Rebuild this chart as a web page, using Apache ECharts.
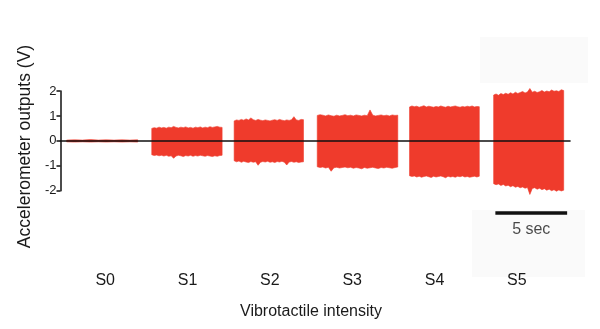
<!DOCTYPE html>
<html>
<head>
<meta charset="utf-8">
<script src="https://cdn.jsdelivr.net/npm/echarts@6/dist/echarts.min.js"></script>
<style>
  html, body { margin: 0; padding: 0; background: #fff; }
  #chart { width: 600px; height: 329px; }
</style>
</head>
<body>
<div id="chart"></div>
<script>
// Intensity levels shown under each recording
const categories = ['S0', 'S1', 'S2', 'S3', 'S4', 'S5'];
const yTicks = [-2, -1, 0, 1, 2];

// Start / end time (s) of each 5-second recording
const segStart = [0.43, 6.36, 12.10, 17.89, 24.32, 30.18];
const segEnd   = [5.38, 11.26, 16.93, 23.50, 29.18, 35.06];

// Envelope of the accelerometer signal (V): peak and trough along each recording
const s0Upper = [0.03, 0.04, 0.03, 0.05, 0.03, 0.04, 0.03, 0.04, 0.03, 0.04];
const s0Lower = [-0.04, -0.05, -0.04, -0.05, -0.04, -0.05, -0.04, -0.05, -0.04, -0.05];
const s1Upper = [0.50, 0.53, 0.51, 0.55, 0.52, 0.54, 0.51, 0.55, 0.53, 0.58, 0.54, 0.52, 0.55, 0.53, 0.56, 0.52, 0.54, 0.51, 0.55, 0.53, 0.56, 0.52, 0.55, 0.53, 0.57, 0.54, 0.56, 0.58, 0.55, 0.54];
const s1Lower = [-0.56, -0.59, -0.57, -0.60, -0.58, -0.61, -0.58, -0.62, -0.60, -0.70, -0.61, -0.58, -0.60, -0.63, -0.59, -0.61, -0.58, -0.62, -0.59, -0.61, -0.58, -0.60, -0.62, -0.59, -0.61, -0.63, -0.60, -0.62, -0.59, -0.58];
const s2Upper = [0.80, 0.84, 0.82, 0.86, 0.83, 0.88, 0.84, 0.92, 0.85, 0.82, 0.86, 0.83, 0.81, 0.84, 0.82, 0.80, 0.83, 0.85, 0.82, 0.86, 0.83, 0.81, 0.84, 0.82, 0.85, 0.97, 0.84, 0.82, 0.86, 0.85];
const s2Lower = [-0.80, -0.84, -0.81, -0.86, -0.82, -0.85, -0.87, -0.83, -0.86, -0.84, -0.98, -0.86, -0.83, -0.85, -0.82, -0.86, -0.84, -0.87, -0.83, -0.85, -0.82, -0.86, -0.97, -0.85, -0.83, -0.86, -0.84, -0.87, -0.85, -0.84];
const s3Upper = [1.02, 1.05, 1.03, 1.00, 1.04, 1.01, 0.99, 1.03, 1.00, 1.02, 1.05, 1.01, 1.03, 1.00, 1.04, 1.02, 1.00, 1.03, 1.01, 1.24, 1.03, 1.00, 1.02, 1.04, 1.01, 1.03, 1.00, 1.04, 1.02, 1.03];
const s3Lower = [-1.04, -1.07, -1.05, -1.09, -1.06, -1.22, -1.08, -1.06, -1.09, -1.07, -1.05, -1.08, -1.06, -1.10, -1.07, -1.09, -1.12, -1.07, -1.10, -1.08, -1.06, -1.09, -1.11, -1.07, -1.09, -1.06, -1.08, -1.10, -1.07, -1.05];
const s4Upper = [1.36, 1.40, 1.37, 1.39, 1.35, 1.38, 1.41, 1.36, 1.39, 1.37, 1.35, 1.38, 1.36, 1.40, 1.37, 1.35, 1.39, 1.36, 1.38, 1.40, 1.37, 1.35, 1.38, 1.36, 1.39, 1.37, 1.40, 1.36, 1.38, 1.37];
const s4Lower = [-1.40, -1.43, -1.41, -1.45, -1.42, -1.46, -1.43, -1.41, -1.44, -1.47, -1.42, -1.45, -1.43, -1.41, -1.44, -1.48, -1.42, -1.45, -1.43, -1.46, -1.42, -1.44, -1.41, -1.45, -1.43, -1.46, -1.44, -1.42, -1.45, -1.42];
const s5Upper = [1.84, 1.88, 1.83, 1.90, 1.86, 1.91, 1.87, 1.93, 1.88, 1.95, 1.90, 1.94, 1.98, 1.92, 1.96, 2.10, 1.95, 1.99, 1.94, 1.97, 2.02, 1.96, 2.00, 1.97, 2.04, 1.99, 2.01, 1.98, 2.05, 2.02];
const s5Lower = [-1.72, -1.76, -1.73, -1.79, -1.75, -1.81, -1.78, -1.84, -1.80, -1.86, -1.83, -1.88, -1.85, -1.90, -1.87, -2.15, -1.91, -1.88, -1.94, -1.90, -1.96, -1.92, -1.98, -1.94, -2.00, -1.96, -2.02, -1.97, -2.01, -1.98];

// 5-second scale bar (time span, level in V) and its caption position
const scaleBarTime = [30.3, 35.3];
const scaleBarLevel = -2.89;
const scaleLabelPoint = [32.8, -3.58];

const uppers = [s0Upper, s1Upper, s2Upper, s3Upper, s4Upper, s5Upper];
const lowers = [s0Lower, s1Lower, s2Lower, s3Lower, s4Lower, s5Lower];

const RED = '#ef3b2c';
const FONT = '"Liberation Sans", Arial, Helvetica, sans-serif';

const chart = echarts.init(document.getElementById('chart'), null, { renderer: 'canvas' });

// Each recording becomes one filled polygon between its upper and lower envelope
function renderBand(params, api) {
  const i = params.dataIndex;
  const up = uppers[i], lo = lowers[i];
  const n = up.length;
  const t0 = segStart[i], t1 = segEnd[i];
  const pts = [];
  for (let k = 0; k < n; k++) {
    const t = t0 + (t1 - t0) * k / (n - 1);
    pts.push(api.coord([t, up[k]]));
  }
  for (let k = n - 1; k >= 0; k--) {
    const t = t0 + (t1 - t0) * k / (n - 1);
    pts.push(api.coord([t, lo[k]]));
  }
  return {
    type: 'polygon',
    shape: { points: pts },
    style: { fill: RED, stroke: RED, lineWidth: 0.6 }
  };
}

const option = {
  backgroundColor: '#ffffff',
  animation: false,
  textStyle: { fontFamily: FONT },
  grid: [
    { left: 60.5, right: 30, top: 91, bottom: 138.3 },
    { left: 64, right: 42, top: 260, height: 10 }
  ],
  xAxis: [
    {
      gridIndex: 0, type: 'value', min: 0, max: 35.5, z: 10,
      axisLine: { show: true, onZero: true, lineStyle: { color: '#111', width: 1.6 } },
      axisTick: { show: false }, axisLabel: { show: false }, splitLine: { show: false }
    },
    {
      gridIndex: 1, type: 'category', data: categories,
      axisLine: { show: false }, axisTick: { show: false }, splitLine: { show: false },
      axisLabel: { margin: 3, color: '#1a1a1a', fontSize: 16, fontFamily: FONT }
    }
  ],
  yAxis: [
    {
      gridIndex: 0, type: 'value', min: yTicks[0], max: yTicks[yTicks.length - 1], interval: 1,
      axisLine: { show: true, lineStyle: { color: '#111', width: 1.5 } },
      axisTick: { show: true, inside: false, length: 4, lineStyle: { color: '#111', width: 1.5 } },
      axisLabel: { margin: 4, color: '#1a1a1a', fontSize: 13, fontFamily: FONT },
      splitLine: { show: false }
    },
    { gridIndex: 1, type: 'value', show: false }
  ],
  graphic: [
    { type: 'rect', z: -10, silent: true, shape: { x: 480, y: 37, width: 108, height: 46 }, style: { fill: '#fafafa' } },
    { type: 'rect', z: -10, silent: true, shape: { x: 472, y: 210, width: 113, height: 67 }, style: { fill: '#fafafa' } },
    {
      type: 'text', x: 25, y: 146.5, rotation: Math.PI / 2,
      style: { text: 'Accelerometer outputs (V)', font: '17.5px ' + FONT, fill: '#1a1a1a', textAlign: 'center', textVerticalAlign: 'middle' }
    },
    {
      type: 'text', x: 311, y: 312,
      style: { text: 'Vibrotactile intensity', font: '16px ' + FONT, fill: '#1a1a1a', textAlign: 'center', textVerticalAlign: 'middle' }
    }
  ],
  series: [
    {
      type: 'custom', xAxisIndex: 0, yAxisIndex: 0, clip: false,
      renderItem: renderBand,
      data: categories.map((c, i) => [i]),
      z: 2
    },
    {
      type: 'line', xAxisIndex: 0, yAxisIndex: 0, clip: false, symbol: 'none',
      data: scaleBarTime.map(t => [t, scaleBarLevel]),
      lineStyle: { color: '#111', width: 3.5, cap: 'butt' }
    },
    {
      type: 'scatter', xAxisIndex: 0, yAxisIndex: 0, clip: false, symbolSize: 0,
      data: [scaleLabelPoint],
      label: { show: true, position: 'inside', formatter: '5 sec', color: '#1a1a1a', fontSize: 16, fontFamily: FONT }
    }
  ]
};

chart.setOption(option);
</script>
</body>
</html>
